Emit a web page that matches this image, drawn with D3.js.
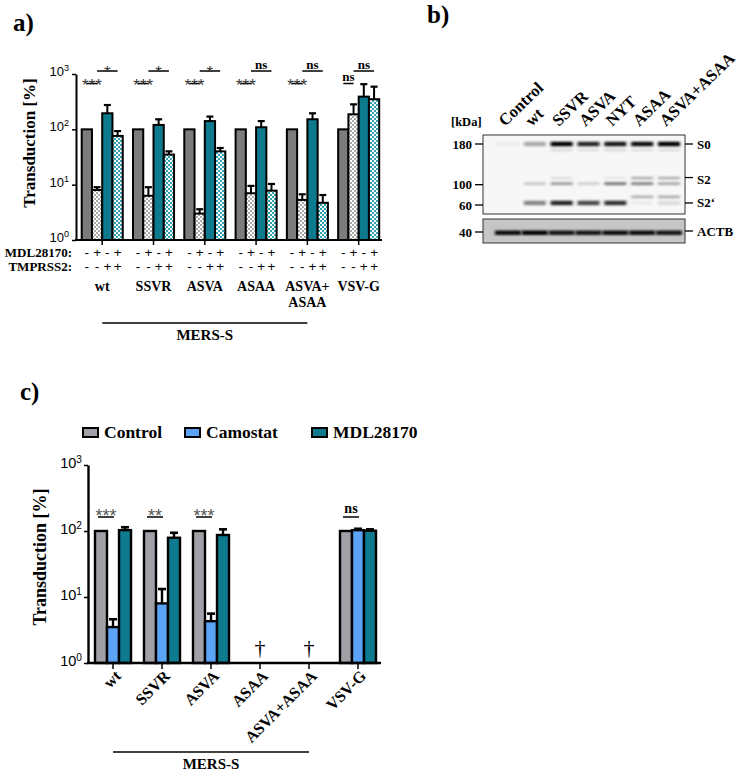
<!DOCTYPE html>
<html><head><meta charset="utf-8">
<script src="https://cdn.jsdelivr.net/npm/d3@7"></script>
<style>body{margin:0;background:#fff}svg{display:block}</style>
</head><body>
<script>
// ---------- Panel a data ----------
const groupsA = ["wt","SSVR","ASVA","ASAA","ASVA+\nASAA","VSV-G"];
const seriesA = ["Control","MDL28170","TMPRSS2","TMPRSS2+MDL28170"];
const controlA = [100,100,100,100,100,100];
const mdlA = [8,6.3,3,7,5.3,187];
const tmprssA = [195,120,141,109,152,390];
const bothA = [76,35,40,7.8,4.7,350];
const errControlA = [null,null,null,null,null,null];
const errMdlA = [9,9,3.6,9.5,6.7,283];
const errTmprssA = [275,152,170,141,195,655];
const errBothA = [93,40,46,10.3,6.5,590];
const sigLowA = ["***","***","***","***","***","ns"];
const sigHighA = ["*","*","*","ns","ns","ns"];
const mdlSigns = ["-","+","-","+"];
const tmprssSigns = ["-","-","+","+"];
const yTicks = [1,10,100,1000];

// ---------- Panel b data ----------
const lanes = ["Control","wt","SSVR","ASVA","NYT","ASAA","ASVA+ASAA"];
const kdaTicks = [180,100,60];
const bandKDa = [180,168,113,102,76,64];
const bandS0 = [0.04,0.3,1,0.85,0.9,0.95,1];
const band168 = [0,0,0.12,0.1,0.12,0.1,0.1];
const band113 = [0,0,0.1,0,0.06,0.3,0.3];
const bandS2 = [0,0.18,0.35,0.15,0.5,0.45,0.3];
const band76 = [0,0,0,0,0,0.3,0.32];
const bandS2p = [0,0.45,0.85,0.7,0.8,0.04,0.1];
const bandACTB = [0.95,1,0.9,0.9,0.95,0.95,0.9];
const rightLabels = ["S0","S2","S2‘"];
const rightKDa = [180,114,64];

// ---------- Panel c data ----------
const groupsC = ["wt","SSVR","ASVA","ASAA","ASVA+ASAA","VSV-G"];
const seriesC = ["Control","Camostat","MDL28170"];
const controlC = [100,100,100,null,null,100];
const camostatC = [3.5,8.0,4.3,null,null,103];
const mdlC = [103,79,87,null,null,101];
const errCamostatC = [4.6,13.2,5.6,null,null,108];
const errMdlC = [114,94,106,null,null,106];
const sigC = ["***","**","***","","","ns"];

// ---------- styles ----------
const SERIF = "'Liberation Serif','Times New Roman',serif";
const SANS = "'Liberation Sans',Arial,sans-serif";
const TEAL = "#0e7a8e";
const GRAY = "#7c7c7c";
const GRAYC = "#a0a0a6";
const BLUE = "#5aa3f5";

const svg = d3.select("body").append("svg").attr("width",750).attr("height",773);
const defs = svg.append("defs");
function checker(id,color){
  const p = defs.append("pattern").attr("id",id).attr("width",4).attr("height",4).attr("patternUnits","userSpaceOnUse");
  p.append("rect").attr("width",4).attr("height",4).attr("fill","#fff");
  p.append("rect").attr("width",2).attr("height",2).attr("fill",color);
  p.append("rect").attr("x",2).attr("y",2).attr("width",2).attr("height",2).attr("fill",color);
}
checker("chkGray","#a9a9a9");
checker("chkTeal","#2ea3b6");
const blur = defs.append("filter").attr("id","blur").attr("x","-20%").attr("y","-200%").attr("width","140%").attr("height","500%");
blur.append("feGaussianBlur").attr("stdDeviation","1.6 0.9");

function panelLabel(t,x,y){
  svg.append("text").attr("x",x).attr("y",y).attr("font-family",SERIF).attr("font-weight","bold").attr("font-size",25).text(t);
}
function powLabels(g,size,dy){
  g.selectAll(".tick text").each(function(d){
    const t = d3.select(this); t.text(null);
    t.attr("font-family",SANS).attr("font-size",size).attr("fill","#000").attr("dy",dy);
    t.append("tspan").text("10");
    t.append("tspan").attr("dy","-0.55em").attr("font-size",size*0.7).text(Math.round(Math.log10(d)));
  });
}
function sigText(x,y,s,size,col){
  const ns = s==="ns";
  svg.append("text").attr("x",x).attr("y",y).attr("text-anchor","middle")
    .attr("font-family",ns?SERIF:SANS).attr("font-weight",ns?"bold":"normal")
    .attr("font-size",ns?size:size+4).attr("fill",ns?"#000":col).text(s);
}

// ================= Panel a =================
panelLabel("a)",13,31);
const yA = d3.scaleLog().domain([1,1000]).range([240,74]);
const xA = d3.scaleBand().domain(groupsA).range([81.7,379.2]).paddingInner(0.2).paddingOuter(0);
const xiA = d3.scaleBand().domain(seriesA).range([0,xA.bandwidth()]);
const valsA = [controlA,mdlA,tmprssA,bothA];
const errsA = [errControlA,errMdlA,errTmprssA,errBothA];
const fillsA = [GRAY,"url(#chkGray)",TEAL,"url(#chkTeal)"];
const gA = svg.append("g");
const dataA = [];
groupsA.forEach((g,gi)=>seriesA.forEach((s,si)=>dataA.push({g,s,si,v:valsA[si][gi],e:errsA[si][gi]})));
gA.selectAll("rect.bar").data(dataA).join("rect").attr("class","bar")
  .attr("x",d=>xA(d.g)+xiA(d.s)).attr("width",xiA.bandwidth())
  .attr("y",d=>yA(d.v)).attr("height",d=>yA(1)-yA(d.v))
  .attr("fill",d=>fillsA[d.si]).attr("stroke","#000").attr("stroke-width",2);
const errDA = dataA.filter(d=>d.e!=null);
gA.selectAll("line.err").data(errDA).join("line")
  .attr("x1",d=>xA(d.g)+xiA(d.s)+xiA.bandwidth()/2).attr("x2",d=>xA(d.g)+xiA(d.s)+xiA.bandwidth()/2)
  .attr("y1",d=>yA(d.v)).attr("y2",d=>yA(d.e)).attr("stroke","#000").attr("stroke-width",2);
gA.selectAll("line.cap").data(errDA).join("line")
  .attr("x1",d=>xA(d.g)+xiA(d.s)+xiA.bandwidth()/2-3.5).attr("x2",d=>xA(d.g)+xiA(d.s)+xiA.bandwidth()/2+3.5)
  .attr("y1",d=>yA(d.e)).attr("y2",d=>yA(d.e)).attr("stroke","#000").attr("stroke-width",2.2);
// axes
const axA = svg.append("g").attr("transform","translate(76,0)")
  .call(d3.axisLeft(yA).tickValues(yTicks).tickSize(4).tickSizeOuter(0).tickPadding(3));
axA.select(".domain").attr("stroke-width",2);
axA.selectAll(".tick line").attr("stroke-width",1.5);
powLabels(axA,13,"0.12em");
svg.append("line").attr("x1",75).attr("x2",382).attr("y1",yA(1)).attr("y2",yA(1)).attr("stroke","#000").attr("stroke-width",2);
const cA = g=>xA(g)+xA.bandwidth()/2;
const bcA = (g,si)=>xA(g)+xiA(seriesA[si])+xiA.bandwidth()/2;
svg.selectAll("line.xtA").data(groupsA).join("line").attr("x1",cA).attr("x2",cA).attr("y1",yA(1)).attr("y2",yA(1)+5).attr("stroke","#000").attr("stroke-width",1.5);
// significance
groupsA.forEach((g,gi)=>{
  const x1=bcA(g,0),x2=bcA(g,1);
  svg.append("line").attr("x1",x1).attr("x2",x2).attr("y1",83.5).attr("y2",83.5).attr("stroke","#000").attr("stroke-width",1.5);
  const lo = sigLowA[gi];
  sigText((x1+x2)/2, lo==="ns"?81:90.5, lo, 13, "#333");
  const x3=bcA(g,1),x4=bcA(g,3);
  svg.append("line").attr("x1",x3).attr("x2",x4).attr("y1",71).attr("y2",71).attr("stroke","#000").attr("stroke-width",1.5);
  const hi = sigHighA[gi];
  sigText((x3+x4)/2, hi==="ns"?69:77.5, hi, 13, "#333");
});
// sign rows
svg.append("text").attr("x",72).attr("y",257).attr("text-anchor","end").attr("font-family",SERIF).attr("font-weight","bold").attr("font-size",13).text("MDL28170:");
svg.append("text").attr("x",72).attr("y",271).attr("text-anchor","end").attr("font-family",SERIF).attr("font-weight","bold").attr("font-size",13).text("TMPRSS2:");
groupsA.forEach(g=>{
  seriesA.forEach((s,si)=>{
    svg.append("text").attr("x",bcA(g,si)).attr("y",257).attr("text-anchor","middle").attr("font-family",SANS).attr("font-size",13.5).text(mdlSigns[si]);
    svg.append("text").attr("x",bcA(g,si)).attr("y",271).attr("text-anchor","middle").attr("font-family",SANS).attr("font-size",13.5).text(tmprssSigns[si]);
  });
  g.split("\n").forEach((line,li)=>{
    svg.append("text").attr("x",cA(g)).attr("y",291+li*16).attr("text-anchor","middle").attr("font-family",SERIF).attr("font-weight","bold").attr("font-size",14).text(line);
  });
});
svg.append("line").attr("x1",cA(groupsA[0])).attr("x2",cA(groupsA[4])).attr("y1",323).attr("y2",323).attr("stroke","#000").attr("stroke-width",1.5);
svg.append("text").attr("x",(cA(groupsA[0])+cA(groupsA[4]))/2).attr("y",340).attr("text-anchor","middle").attr("font-family",SERIF).attr("font-weight","bold").attr("font-size",15).text("MERS-S");
svg.append("text").attr("transform","translate(35,143) rotate(-90)").attr("text-anchor","middle").attr("font-family",SERIF).attr("font-weight","bold").attr("font-size",17).text("Transduction [%]");

// ================= Panel b =================
panelLabel("b)",427,23);
const xB = d3.scalePoint().domain(lanes).range([508,669]);
const yB = d3.scaleLinear().domain([60,180]).range([205,144]);
const gB = svg.append("g");
gB.append("rect").attr("x",483).attr("y",135).attr("width",202).attr("height",79).attr("fill","#f7f7f7").attr("stroke","#333").attr("stroke-width",1);
gB.append("rect").attr("x",483).attr("y",219).attr("width",202).attr("height",24).attr("fill","#c6c6c6").attr("stroke","#333").attr("stroke-width",1);
const bandRows = [bandS0,band168,band113,bandS2,band76,bandS2p];
const bandH = [4.5,2.5,2.5,3,2.5,4.5];
bandRows.forEach((row,ri)=>{
  gB.selectAll(null).data(lanes).join("rect")
    .attr("x",d=>xB(d)-11).attr("width",22)
    .attr("y",yB(bandKDa[ri])-bandH[ri]/2).attr("height",bandH[ri])
    .attr("fill","#000").attr("opacity",(d,i)=>row[i]).attr("filter","url(#blur)");
});
gB.selectAll(null).data(lanes).join("rect")
  .attr("x",d=>xB(d)-13).attr("width",26).attr("y",230.5).attr("height",4.5)
  .attr("fill","#000").attr("opacity",(d,i)=>bandACTB[i]).attr("filter","url(#blur)");
kdaTicks.forEach(k=>{
  gB.append("line").attr("x1",475).attr("x2",483).attr("y1",yB(k)).attr("y2",yB(k)).attr("stroke","#000").attr("stroke-width",1.3);
  gB.append("text").attr("x",472).attr("y",yB(k)+4.5).attr("text-anchor","end").attr("font-family",SERIF).attr("font-weight","bold").attr("font-size",13).text(k);
});
gB.append("line").attr("x1",475).attr("x2",483).attr("y1",232).attr("y2",232).attr("stroke","#000").attr("stroke-width",1.3);
gB.append("text").attr("x",472).attr("y",236.5).attr("text-anchor","end").attr("font-family",SERIF).attr("font-weight","bold").attr("font-size",13).text("40");
gB.append("text").attr("x",451).attr("y",126).attr("font-family",SERIF).attr("font-weight","bold").attr("font-size",12.5).text("[kDa]");
rightLabels.forEach((l,i)=>{
  const y = yB(rightKDa[i]);
  gB.append("line").attr("x1",685).attr("x2",693).attr("y1",y).attr("y2",y).attr("stroke","#000").attr("stroke-width",1.3);
  gB.append("text").attr("x",697).attr("y",y+(i===1?6:4.5)).attr("font-family",SERIF).attr("font-weight","bold").attr("font-size",13).text(l);
});
gB.append("line").attr("x1",685).attr("x2",693).attr("y1",231).attr("y2",231).attr("stroke","#000").attr("stroke-width",1.3);
gB.append("text").attr("x",697).attr("y",235.5).attr("font-family",SERIF).attr("font-weight","bold").attr("font-size",13).text("ACTB");
gB.selectAll("text.lane").data(lanes).join("text").attr("class","lane")
  .attr("transform",d=>`translate(${xB(d)-3},127) rotate(-44)`)
  .attr("font-family",SERIF).attr("font-weight","bold").attr("font-size",16.5).text(d=>d);

// ================= Panel c =================
panelLabel("c)",20,400);
const yC = d3.scaleLog().domain([1,1000]).range([663,465]);
const xC = d3.scaleBand().domain(groupsC).range([95,376]).paddingInner(0.265).paddingOuter(0);
const xiC = d3.scaleBand().domain(seriesC).range([0,xC.bandwidth()]);
const valsC = [controlC,camostatC,mdlC];
const errsC = [[null,null,null,null,null,null],errCamostatC,errMdlC];
const fillsC = [GRAYC,BLUE,TEAL];
// legend
const legX = [83,185,312];
seriesC.forEach((s,i)=>{
  svg.append("rect").attr("x",legX[i]).attr("y",428).attr("width",15).attr("height",9).attr("fill",fillsC[i]).attr("stroke","#000").attr("stroke-width",2);
  svg.append("text").attr("x",legX[i]+21).attr("y",438).attr("font-family",SERIF).attr("font-weight","bold").attr("font-size",17.5).text(s);
});
const dataC = [];
groupsC.forEach((g,gi)=>seriesC.forEach((s,si)=>{ if(valsC[si][gi]!=null) dataC.push({g,s,si,v:valsC[si][gi],e:errsC[si][gi]}); }));
const gC = svg.append("g");
gC.selectAll("rect").data(dataC).join("rect")
  .attr("x",d=>xC(d.g)+xiC(d.s)).attr("width",xiC.bandwidth())
  .attr("y",d=>yC(d.v)).attr("height",d=>yC(1)-yC(d.v))
  .attr("fill",d=>fillsC[d.si]).attr("stroke","#000").attr("stroke-width",2.4);
const errDC = dataC.filter(d=>d.e!=null);
gC.selectAll("line.err").data(errDC).join("line")
  .attr("x1",d=>xC(d.g)+xiC(d.s)+xiC.bandwidth()/2).attr("x2",d=>xC(d.g)+xiC(d.s)+xiC.bandwidth()/2)
  .attr("y1",d=>yC(d.v)).attr("y2",d=>yC(d.e)).attr("stroke","#000").attr("stroke-width",2.4);
gC.selectAll("line.cap").data(errDC).join("line")
  .attr("x1",d=>xC(d.g)+xiC(d.s)+xiC.bandwidth()/2-4).attr("x2",d=>xC(d.g)+xiC(d.s)+xiC.bandwidth()/2+4)
  .attr("y1",d=>yC(d.e)).attr("y2",d=>yC(d.e)).attr("stroke","#000").attr("stroke-width",2.6);
const axC = svg.append("g").attr("transform","translate(88,0)")
  .call(d3.axisLeft(yC).tickValues(yTicks).tickSize(4).tickSizeOuter(0).tickPadding(2));
axC.select(".domain").attr("stroke-width",2.4);
axC.selectAll(".tick line").attr("stroke-width",1.5);
powLabels(axC,14.5,"0.2em");
svg.append("line").attr("x1",87).attr("x2",381).attr("y1",yC(1)).attr("y2",yC(1)).attr("stroke","#000").attr("stroke-width",2.4);
const cC = g=>xC(g)+xC.bandwidth()/2;
const bcC = (g,si)=>xC(g)+xiC(seriesC[si])+xiC.bandwidth()/2;
svg.selectAll("line.xtC").data(groupsC).join("line").attr("x1",cC).attr("x2",cC).attr("y1",yC(1)).attr("y2",yC(1)+6).attr("stroke","#000").attr("stroke-width",1.5);
groupsC.forEach((g,gi)=>{
  const s = sigC[gi];
  if(s){
    const x1=bcC(g,0)-3,x2=bcC(g,1)+1;
    svg.append("line").attr("x1",x1).attr("x2",x2).attr("y1",517).attr("y2",517).attr("stroke","#000").attr("stroke-width",1.5);
    sigText((x1+x2)/2, s==="ns"?513:522, s, 14, "#555");
  }
  if(valsC[0][gi]==null){
    svg.append("text").attr("x",cC(g)).attr("y",655).attr("text-anchor","middle").attr("font-family",SERIF).attr("font-size",22).text("†");
  }
  svg.append("text").attr("transform",`translate(${cC(g)+9},677) rotate(-45)`).attr("text-anchor","end")
    .attr("font-family",SERIF).attr("font-weight","bold").attr("font-size",16).text(g);
});
svg.append("line").attr("x1",cC(groupsC[0])).attr("x2",cC(groupsC[4])).attr("y1",752).attr("y2",752).attr("stroke","#000").attr("stroke-width",1.5);
svg.append("text").attr("x",(cC(groupsC[0])+cC(groupsC[4]))/2).attr("y",769).attr("text-anchor","middle").attr("font-family",SERIF).attr("font-weight","bold").attr("font-size",15).text("MERS-S");
svg.append("text").attr("transform","translate(46,557) rotate(-90)").attr("text-anchor","middle").attr("font-family",SERIF).attr("font-weight","bold").attr("font-size",18).text("Transduction [%]");
</script>
</body></html>
